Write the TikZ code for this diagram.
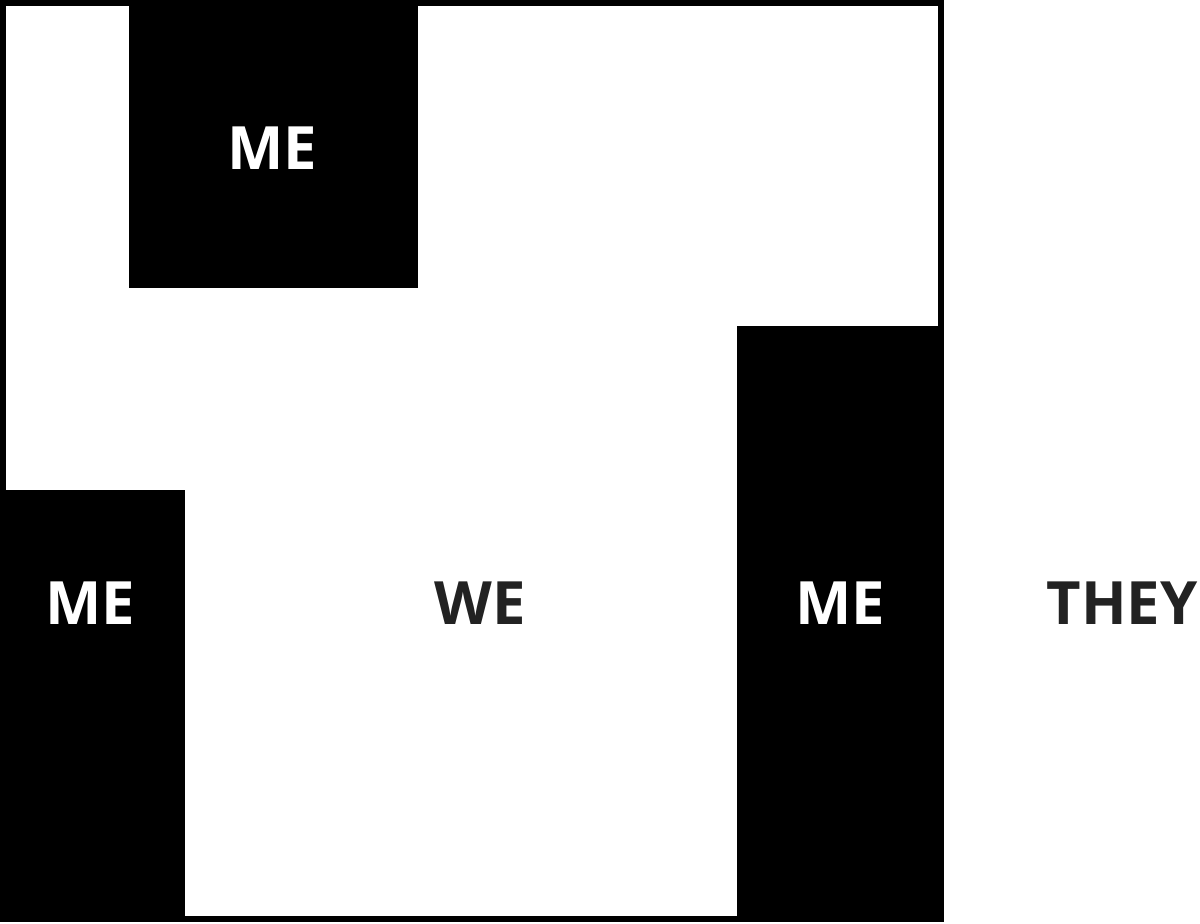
\documentclass[tikz,border=0pt]{standalone}
\usepackage{fontspec}
\setmainfont{Open Sans}
\definecolor{scritta}{HTML}{222222}

\begin{document}
\begin{tikzpicture}[
   blocco/.style={fill=black},
   io/.style={text=white,font=\fontsize{17}{20}\selectfont\bfseries},
   gruppo/.style={text=scritta,font=\fontsize{17}{20}\selectfont\bfseries}]
   \useasboundingbox (0,0) rectangle (12,9.24);
% blocchi neri
   \fill[blocco] (1.29,9.24) rectangle (4.18,6.36);
   \fill[blocco] (0,4.34) rectangle (1.85,0.02);
   \fill[blocco] (7.37,5.98) rectangle (9.44,0.02);
% cornice
   \draw[line width=0.06cm] (0.03,0.05) rectangle (9.41,9.21);
% scritte
   \node[io] (meA) at (2.72,7.76) {ME};
   \node[io] (meB) at (0.90,3.21) {ME};
   \node[gruppo] (we) at (4.80,3.21) {WE};
   \node[io] (meC) at (8.40,3.21) {ME};
   \node[gruppo] (they) at (11.22,3.21) {THEY};
\end{tikzpicture}
\end{document}
